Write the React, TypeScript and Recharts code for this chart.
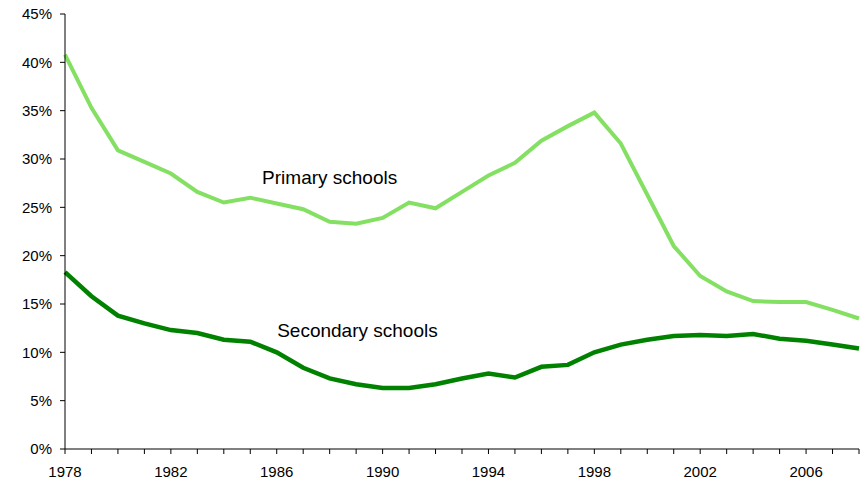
import React from 'react';
import { LineChart, Line, XAxis, YAxis, ReferenceDot } from 'recharts';

const years = [
  1978, 1979, 1980, 1981, 1982, 1983, 1984, 1985, 1986, 1987, 1988,
  1989, 1990, 1991, 1992, 1993, 1994, 1995, 1996, 1997, 1998,
  1999, 2000, 2001, 2002, 2003, 2004, 2005, 2006, 2007, 2008,
];

const primary = [
  40.8, 35.3, 30.9, 29.7, 28.5, 26.6, 25.5, 26.0, 25.4, 24.8, 23.5,
  23.3, 23.9, 25.5, 24.9, 26.6, 28.3, 29.6, 31.9, 33.4, 34.8,
  31.6, 26.3, 21.0, 17.9, 16.3, 15.3, 15.2, 15.2, 14.4, 13.5,
];

const secondary = [
  18.3, 15.8, 13.8, 13.0, 12.3, 12.0, 11.3, 11.1, 10.0, 8.4, 7.3,
  6.7, 6.3, 6.3, 6.7, 7.3, 7.8, 7.4, 8.5, 8.7, 10.0,
  10.8, 11.3, 11.7, 11.8, 11.7, 11.9, 11.4, 11.2, 10.8, 10.4,
];

const yTicks = [0, 5, 10, 15, 20, 25, 30, 35, 40, 45];
const labeledYears = [1978, 1982, 1986, 1990, 1994, 1998, 2002, 2006];

const data = years.map((year, i) => ({ year, primary: primary[i], secondary: secondary[i] }));

const font = 'Arial, "Liberation Sans", Helvetica, sans-serif';

export default function App() {
  return (
    <div style={{ position: 'absolute', left: 0, top: 0, background: '#fff' }}>
      <LineChart width={863} height={482} data={data} margin={{ top: 14, right: 4, bottom: 2, left: 0 }}>
        <XAxis
          dataKey="year"
          type="number"
          domain={[1978, 2008]}
          ticks={years}
          interval={0}
          tickFormatter={(v: number) => (labeledYears.includes(v) ? String(v) : '')}
          stroke="#000"
          tickSize={5}
          tickMargin={12}
          height={31}
          tick={{ fill: '#000', fontSize: 15, fontFamily: font }}
        />
        <YAxis
          domain={[0, 45]}
          ticks={yTicks}
          interval={0}
          tickFormatter={(v: number) => `${v}%`}
          stroke="#000"
          tickSize={5}
          tickMargin={8}
          width={65}
          tick={{ fill: '#000', fontSize: 15, fontFamily: font }}
        />
        <Line
          dataKey="primary"
          type="linear"
          stroke="#84e062"
          strokeWidth={4}
          dot={false}
          isAnimationActive={false}
        />
        <Line
          dataKey="secondary"
          type="linear"
          stroke="#008200"
          strokeWidth={4.5}
          dot={false}
          isAnimationActive={false}
        />
        <ReferenceDot
          x={1988}
          y={28.15}
          r={0}
          stroke="none"
          label={{ value: 'Primary schools', position: 'center', fill: '#000', fontSize: 19, fontFamily: font }}
        />
        <ReferenceDot
          x={1989.05}
          y={12.33}
          r={0}
          stroke="none"
          label={{ value: 'Secondary schools', position: 'center', fill: '#000', fontSize: 19, fontFamily: font }}
        />
      </LineChart>
    </div>
  );
}
